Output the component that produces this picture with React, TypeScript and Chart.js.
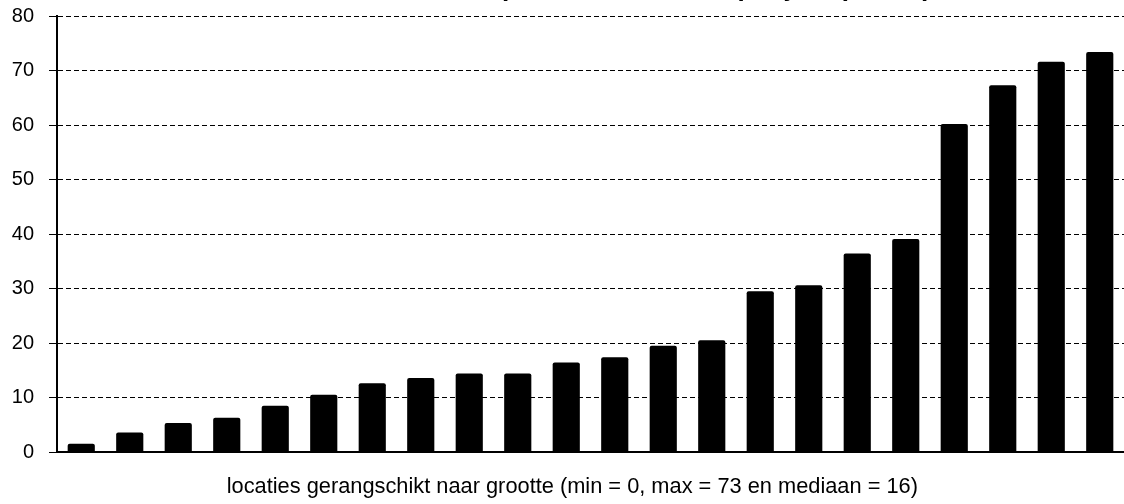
import React, { useEffect, useRef } from "react";
import { Chart, registerables } from "chart.js";

Chart.register(...registerables);

const categories = [
  "1", "2", "3", "4", "5", "6", "7", "8", "9", "10", "11",
  "12", "13", "14", "15", "16", "17", "18", "19", "20", "21", "22",
];

const values = [
  1.5, 3.6, 5.3, 6.3, 8.5, 10.5, 12.6, 13.6, 14.4, 14.4, 16.4,
  17.4, 19.5, 20.5, 29.5, 30.6, 36.4, 39.1, 60.2, 67.3, 71.6, 73.4,
];

const yMin = 0;
const yMax = 80;
const yStep = 10;

const chartTitle = "Gemiddeld aantal dieren per hectare natuur per jaar (aantal)";
const xAxisTitle =
  "locaties gerangschikt naar grootte (min = 0, max = 73 en mediaan = 16)";

const FONT = "'Liberation Sans', Arial, Helvetica, sans-serif";
const SHIFT = 27;

export default function App() {
  const ref = useRef<HTMLCanvasElement>(null);

  useEffect(() => {
    if (!ref.current) return;
    Chart.defaults.font.family = FONT;
    const chart = new Chart(ref.current, {
      type: "bar",
      data: {
        labels: categories,
        datasets: [
          {
            data: values,
            backgroundColor: "#000000",
            borderWidth: 0,
            borderRadius: 2,
            barPercentage: 0.56,
            categoryPercentage: 1,
          },
        ],
      },
      options: {
        responsive: false,
        maintainAspectRatio: false,
        animation: false,
        devicePixelRatio: 1,
        layout: { padding: 0 },
        plugins: {
          legend: { display: false },
          tooltip: { enabled: false },
          title: {
            display: true,
            text: chartTitle,
            color: "#000000",
            font: { size: 26, weight: "bold", family: FONT },
            padding: { top: 0, bottom: 8.8 + (SHIFT - 24) },
          },
        },
        scales: {
          x: {
            grid: { display: false, drawTicks: false },
            border: { display: true, color: "#000000", width: 2 },
            ticks: { display: false },
            title: {
              display: true,
              text: xAxisTitle + "      ",
              color: "#000000",
              font: { size: 21.8, family: FONT },
              padding: { top: 0, bottom: 4 },
            },
            afterFit: (s: any) => {
              s.height = 52;
            },
          },
          y: {
            min: yMin,
            max: yMax,
            ticks: {
              stepSize: yStep,
              color: "#000000",
              font: { size: 20, family: FONT },
              padding: 15,
            },
            grid: {
              color: "#000000",
              lineWidth: 1,
              tickLength: 8,
              tickColor: "#000000",
              tickWidth: 1,
              tickBorderDash: [],
            },
            border: { display: true, color: "#000000", width: 2, dash: [5, 3] },
            afterFit: (s: any) => {
              s.width = 57;
            },
          },
        },
      },
    });
    return () => chart.destroy();
  }, []);

  return (
    <div
      style={{
        position: "absolute",
        left: 0,
        top: -SHIFT,
        width: 1124,
        height: 504 + SHIFT,
        background: "#ffffff",
      }}
    >
      <canvas
        ref={ref}
        width={1124}
        height={504 + SHIFT}
        style={{ display: "block" }}
      />
    </div>
  );
}
